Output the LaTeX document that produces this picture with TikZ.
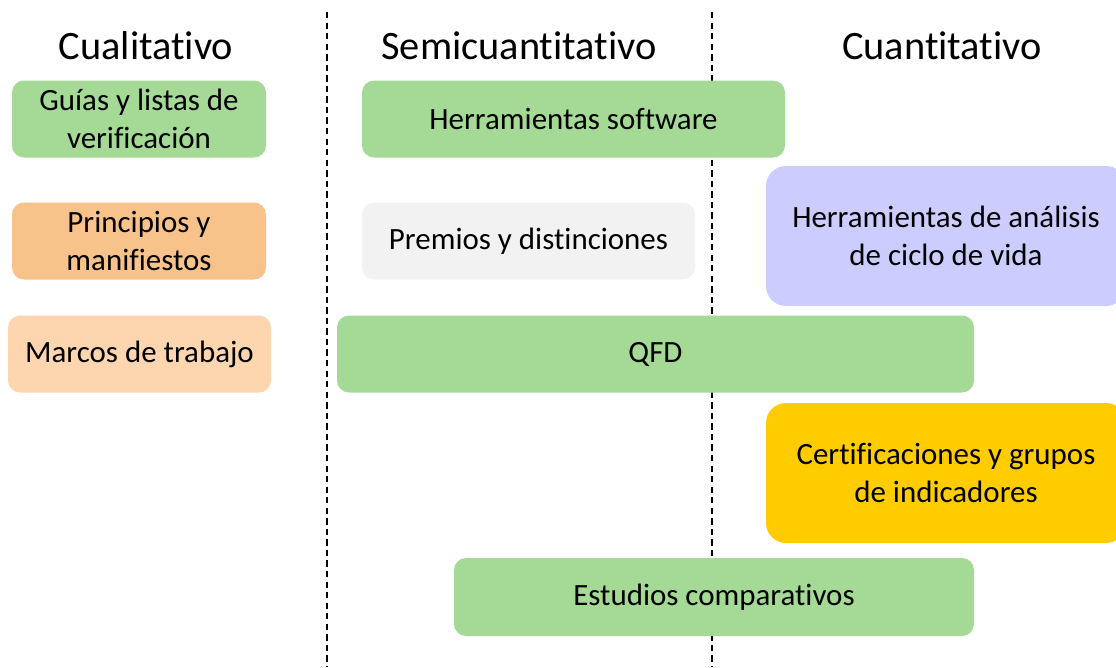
\documentclass[tikz,border=0pt]{standalone}
\usepackage{fontspec}
\setmainfont{Carlito}[Ligatures = NoCommon]
\usetikzlibrary{backgrounds}
\definecolor{verde}{HTML}{A4DA95}
\definecolor{naranja}{HTML}{F8C38B}
\definecolor{salmon}{HTML}{FDD6B0}
\definecolor{gris}{HTML}{F2F2F2}
\definecolor{lila}{HTML}{CCCCFF}
\definecolor{oro}{HTML}{FFCC00}
\def\px{0.025cm}

\begin{document}
\begin{tikzpicture}[
	x = \px, y = -\px,
	caja/.style = {
		rounded corners = 12*\px, align = center, inner sep = 0pt,
		font = \fontsize{22}{26.6}\selectfont
	},
	titulo/.style = {font = \fontsize{28.7}{34}\selectfont}
]

	% márgenes del dibujo
	\useasboundingbox (0,0) rectangle (1116,667);

	% separadores de columnas
	\coordinate (S1a) at (327,12);
	\coordinate (S1b) at (327,667);
	\coordinate (S2a) at (712,12);
	\coordinate (S2b) at (712,667);
	\draw[line width = 1.1pt, dash pattern = on 4.5pt off 3pt] (S1a) -- (S1b);
	\draw[line width = 1.1pt, dash pattern = on 4.5pt off 3pt] (S2a) -- (S2b);

	% títulos de las columnas
	\node[titulo] (cual) at (146,46) {Cualitativo};
	\node[titulo] (semi) at (519,46) {Semicuantitativo};
	\node[titulo] (cuan) at (942,46) {Cuantitativo};

	% cualitativo
	\node[caja, fill = verde, minimum width = 254*\px, minimum height = 77*\px]
		(guias) at (139,119) {Guías y listas de\\verificación};
	\node[caja, fill = naranja, minimum width = 254*\px, minimum height = 77*\px]
		(princ) at (139,241) {Principios y\\manifiestos};
	\node[caja, fill = salmon, minimum width = 263*\px, minimum height = 77*\px]
		(marcos) at (139.5,354) {Marcos de trabajo};

	% semicuantitativo
	\node[caja, fill = verde, minimum width = 423*\px, minimum height = 77*\px]
		(soft) at (573.5,119) {Herramientas software};
	\node[caja, fill = gris, minimum width = 333*\px, minimum height = 77*\px]
		(premios) at (528.5,241) {Premios y distinciones};
	\node[caja, fill = verde, minimum width = 637*\px, minimum height = 77*\px]
		(qfd) at (655.5,354) {QFD};
	\node[caja, fill = verde, minimum width = 520*\px, minimum height = 78*\px]
		(estudios) at (714,597) {Estudios comparativos};

	% cuantitativo
	\node[caja, rounded corners = 20*\px, fill = lila,
		minimum width = 360*\px, minimum height = 140*\px]
		(acv) at (946,236) {Herramientas de análisis\\de ciclo de vida};
	\node[caja, rounded corners = 20*\px, fill = oro,
		minimum width = 360*\px, minimum height = 140*\px]
		(certif) at (946,473) {Certificaciones y grupos\\de indicadores};

\end{tikzpicture}
\end{document}
